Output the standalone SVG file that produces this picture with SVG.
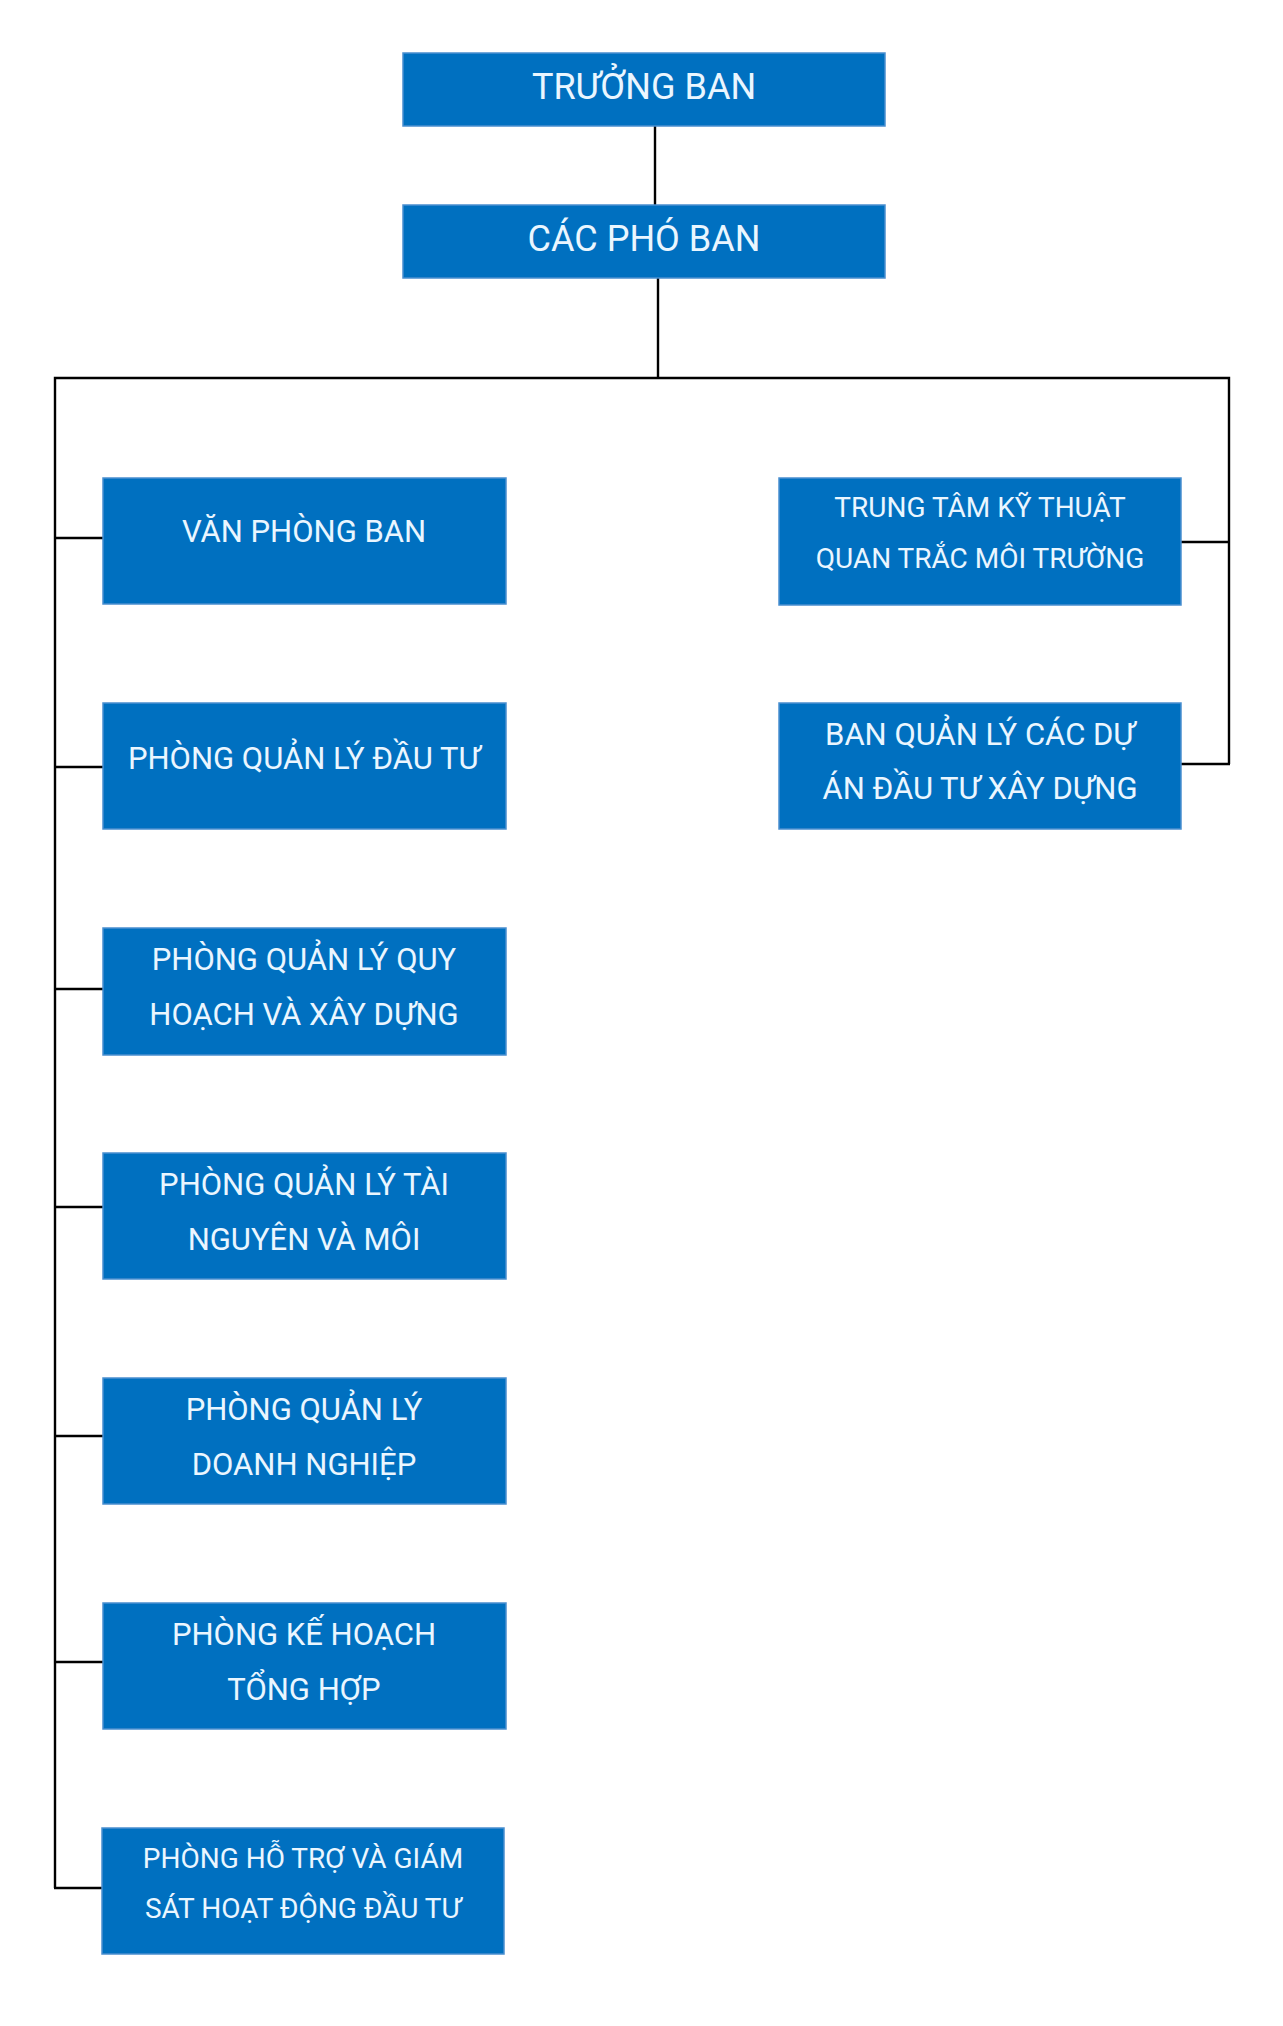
<svg xmlns="http://www.w3.org/2000/svg" width="1283" height="2026" viewBox="0 0 1283 2026">
<style>
.box{fill:#0070C0;stroke:#4a8fcf;stroke-width:1.5}
.t{font-family:Roboto,"Liberation Sans",sans-serif;fill:#EAF6FF;text-anchor:middle}
.t35{font-size:36px}
.t30{font-size:31px}
.t27{font-size:28px}
.ln{stroke:#000;stroke-width:2.4;fill:none}
</style>
<rect width="1283" height="2026" fill="#fff"/>
<g id="connectors">
<line class="ln" x1="655" y1="126" x2="655" y2="205"/>
<line class="ln" x1="658" y1="278" x2="658" y2="378"/>
<polyline class="ln" points="55,1888 55,378 1229,378 1229,764"/>
<line class="ln" x1="55" y1="538" x2="103" y2="538"/>
<line class="ln" x1="55" y1="767" x2="103" y2="767"/>
<line class="ln" x1="55" y1="989" x2="103" y2="989"/>
<line class="ln" x1="55" y1="1207" x2="103" y2="1207"/>
<line class="ln" x1="55" y1="1436" x2="103" y2="1436"/>
<line class="ln" x1="55" y1="1662" x2="103" y2="1662"/>
<line class="ln" x1="54" y1="1888" x2="102" y2="1888"/>
<line class="ln" x1="1181" y1="542" x2="1229" y2="542"/>
<line class="ln" x1="1181" y1="764" x2="1230" y2="764"/>
</g>
<g id="truong-ban"><rect class="box" x="403" y="53" width="482" height="73"/><text class="t t35" x="644" y="99">TRƯỞNG BAN</text></g>
<g id="cac-pho-ban"><rect class="box" x="403" y="205" width="482" height="73"/><text class="t t35" x="644" y="251">CÁC PHÓ BAN</text></g>
<g id="van-phong-ban"><rect class="box" x="103" y="478" width="403" height="126"/><text class="t t30" x="304" y="542">VĂN PHÒNG BAN</text></g>
<g id="phong-dau-tu"><rect class="box" x="103" y="703" width="403" height="126"/><text class="t t30" x="304" y="769">PHÒNG QUẢN LÝ ĐẦU TƯ</text></g>
<g id="phong-quy-hoach"><rect class="box" x="103" y="928" width="403" height="127"/><text class="t t30" x="304" y="970">PHÒNG QUẢN LÝ QUY</text><text class="t t30" x="304" y="1025">HOẠCH VÀ XÂY DỰNG</text></g>
<g id="phong-tai-nguyen"><rect class="box" x="103" y="1153" width="403" height="126"/><text class="t t30" x="304" y="1195">PHÒNG QUẢN LÝ TÀI</text><text class="t t30" x="304" y="1250">NGUYÊN VÀ MÔI</text></g>
<g id="phong-doanh-nghiep"><rect class="box" x="103" y="1378" width="403" height="126"/><text class="t t30" x="304" y="1420">PHÒNG QUẢN LÝ</text><text class="t t30" x="304" y="1475">DOANH NGHIỆP</text></g>
<g id="phong-ke-hoach"><rect class="box" x="103" y="1603" width="403" height="126"/><text class="t t30" x="304" y="1645">PHÒNG KẾ HOẠCH</text><text class="t t30" x="304" y="1700">TỔNG HỢP</text></g>
<g id="phong-ho-tro"><rect class="box" x="102" y="1828" width="402" height="126"/><text class="t t27" x="303" y="1868">PHÒNG HỖ TRỢ VÀ GIÁM</text><text class="t t27" x="303" y="1918">SÁT HOẠT ĐỘNG ĐẦU TƯ</text></g>
<g id="trung-tam"><rect class="box" x="779" y="478" width="402" height="127"/><text class="t t27" x="980" y="517">TRUNG TÂM KỸ THUẬT</text><text class="t t27" x="980" y="568">QUAN TRẮC MÔI TRƯỜNG</text></g>
<g id="ban-quan-ly"><rect class="box" x="779" y="703" width="402" height="126"/><text class="t t30" x="980" y="745">BAN QUẢN LÝ CÁC DỰ</text><text class="t t30" x="980" y="799">ÁN ĐẦU TƯ XÂY DỰNG</text></g>
</svg>
